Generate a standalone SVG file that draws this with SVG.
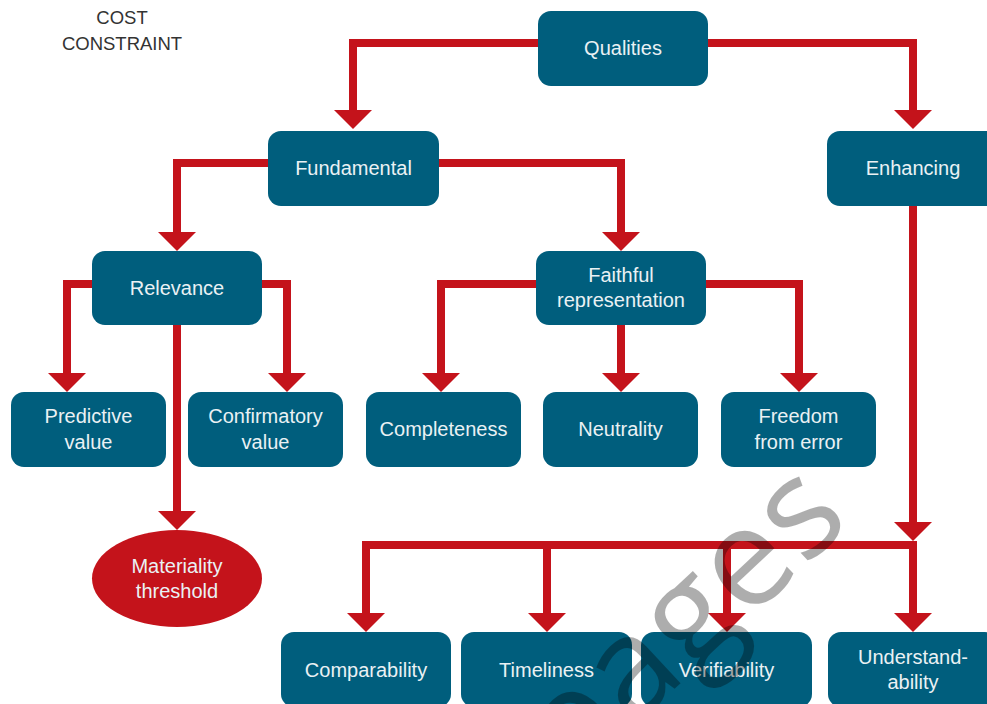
<svg xmlns="http://www.w3.org/2000/svg" width="987" height="704" viewBox="0 0 987 704">
<defs>
<style>
.box{fill:#005e7d}
.ell{fill:#c4131b}
.t{font-family:"Liberation Sans",Arial,sans-serif;font-size:20px;fill:#eaf1f4;text-anchor:middle}
.cost{font-family:"Liberation Sans",Arial,sans-serif;font-size:18.5px;fill:#333;text-anchor:middle}
.c{fill:none;stroke:#c4131b;stroke-width:8;stroke-linejoin:miter;stroke-linecap:butt}
.wm{font-family:"Open Sans","Liberation Sans",sans-serif;font-size:138px;fill:#000;fill-opacity:0.32;text-anchor:middle;letter-spacing:2px}
</style>
<marker id="ah" markerUnits="userSpaceOnUse" viewBox="0 0 19 38" markerWidth="19" markerHeight="38" refX="0" refY="19" orient="auto">
<polygon points="0,0 19,19 0,38" fill="#c4131b"/>
</marker>
</defs>
<rect width="987" height="704" fill="#fff"/>

<g id="cost-constraint">
<text class="cost" x="122" y="24">COST</text>
<text class="cost" x="122" y="50">CONSTRAINT</text>
</g>

<g id="connectors">
<path class="c" d="M538 43 H353 V110" marker-end="url(#ah)"/>
<path class="c" d="M708 43 H913 V110" marker-end="url(#ah)"/>
<path class="c" d="M268 163 H177 V232" marker-end="url(#ah)"/>
<path class="c" d="M439 163 H621 V232" marker-end="url(#ah)"/>
<path class="c" d="M92 284 H67 V373" marker-end="url(#ah)"/>
<path class="c" d="M262 284 H287 V373" marker-end="url(#ah)"/>
<path class="c" d="M177 325 V511" marker-end="url(#ah)"/>
<path class="c" d="M536 284 H441 V373" marker-end="url(#ah)"/>
<path class="c" d="M621 325 V373" marker-end="url(#ah)"/>
<path class="c" d="M706 284 H799 V373" marker-end="url(#ah)"/>
<path class="c" d="M913 206 V522" marker-end="url(#ah)"/>
<path class="c" d="M917 545 H366 V613" marker-end="url(#ah)"/>
<path class="c" d="M547 545 V613" marker-end="url(#ah)"/>
<path class="c" d="M727 545 V613" marker-end="url(#ah)"/>
<path class="c" d="M913 541 V613" marker-end="url(#ah)"/>
</g>

<g id="qualities">
<rect class="box" x="538" y="11" width="170" height="75" rx="13"/>
<text class="t" x="623" y="55">Qualities</text>
</g>
<g id="fundamental">
<rect class="box" x="268" y="131" width="171" height="75" rx="13"/>
<text class="t" x="353.5" y="175">Fundamental</text>
</g>
<g id="enhancing">
<rect class="box" x="827" y="131" width="172" height="75" rx="13"/>
<text class="t" x="913" y="175">Enhancing</text>
</g>
<g id="relevance">
<rect class="box" x="92" y="251" width="170" height="74" rx="13"/>
<text class="t" x="177" y="295">Relevance</text>
</g>
<g id="faithful-representation">
<rect class="box" x="536" y="251" width="170" height="74" rx="13"/>
<text class="t" x="621" y="282">Faithful</text>
<text class="t" x="621" y="307">representation</text>
</g>
<g id="predictive-value">
<rect class="box" x="11" y="392" width="155" height="75" rx="13"/>
<text class="t" x="88.5" y="423">Predictive</text>
<text class="t" x="88.5" y="449">value</text>
</g>
<g id="confirmatory-value">
<rect class="box" x="188" y="392" width="155" height="75" rx="13"/>
<text class="t" x="265.5" y="423">Confirmatory</text>
<text class="t" x="265.5" y="449">value</text>
</g>
<g id="completeness">
<rect class="box" x="366" y="392" width="155" height="75" rx="13"/>
<text class="t" x="443.5" y="436">Completeness</text>
</g>
<g id="neutrality">
<rect class="box" x="543" y="392" width="155" height="75" rx="13"/>
<text class="t" x="620.5" y="436">Neutrality</text>
</g>
<g id="freedom-from-error">
<rect class="box" x="721" y="392" width="155" height="75" rx="13"/>
<text class="t" x="798.5" y="423">Freedom</text>
<text class="t" x="798.5" y="449">from error</text>
</g>
<g id="materiality-threshold">
<ellipse class="ell" cx="177" cy="578.5" rx="85" ry="48.5"/>
<text class="t" x="177" y="573">Materiality</text>
<text class="t" x="177" y="598">threshold</text>
</g>
<g id="comparability">
<rect class="box" x="281" y="632" width="170" height="75" rx="13"/>
<text class="t" x="366" y="676.5">Comparability</text>
</g>
<g id="timeliness">
<rect class="box" x="461" y="632" width="171" height="75" rx="13"/>
<text class="t" x="546.5" y="676.5">Timeliness</text>
</g>
<g id="verifiability">
<rect class="box" x="641" y="632" width="171" height="75" rx="13"/>
<text class="t" x="726.5" y="676.5">Verifiability</text>
</g>
<g id="understandability">
<rect class="box" x="828" y="632" width="170" height="75" rx="13"/>
<text class="t" x="913" y="664">Understand-</text>
<text class="t" x="913" y="689">ability</text>
</g>

<g id="watermark">
<text class="wm" transform="translate(712,654) rotate(-43)" x="0" y="0">pages</text>
</g>
</svg>
